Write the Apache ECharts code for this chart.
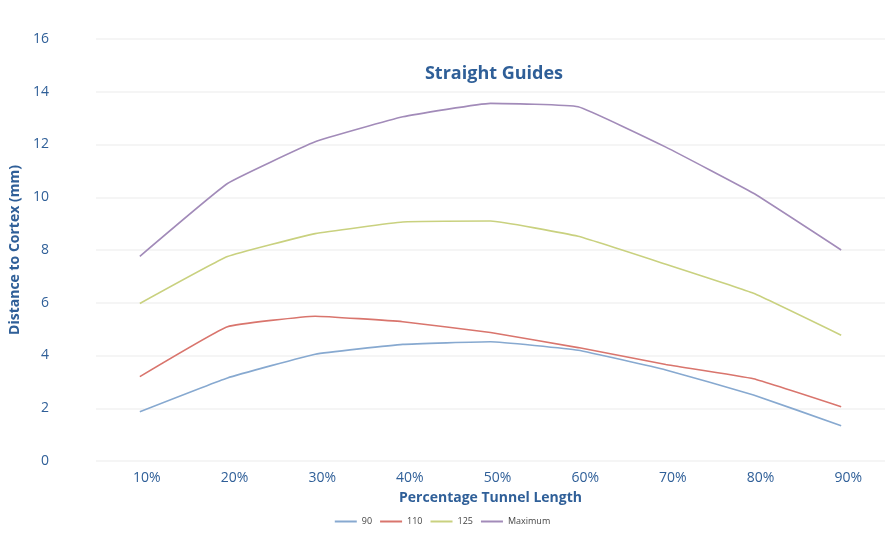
<!DOCTYPE html>
<html>
<head>
<meta charset="utf-8">
<script src="https://cdn.jsdelivr.net/npm/echarts@6/dist/echarts.min.js"></script>
<style>
  html, body { margin: 0; padding: 0; background: #fff; }
  #chart { width: 885px; height: 534px; }
</style>
</head>
<body>
<div id="chart"></div>
<script>
// categories along the tunnel
var tunnelPct = ['10%', '20%', '30%', '40%', '50%', '60%', '70%', '80%', '90%'];

// distance to cortex (mm) per guide
var guide90  = [1.87, 3.15, 4.05, 4.42, 4.52, 4.2, 3.45, 2.5, 1.34];
var guide110 = [3.2, 5.09, 5.49, 5.28, 4.87, 4.3, 3.66, 3.12, 2.06];
var guide125 = [5.97, 7.75, 8.62, 9.06, 9.1, 8.52, 7.46, 6.36, 4.77];
var guideMax = [7.76, 10.52, 12.1, 13.05, 13.56, 13.43, 11.9, 10.15, 8.0];

var textBlue = '#2f5f98';

var dom = document.getElementById('chart');
var myChart = echarts.init(dom, null, { renderer: 'canvas' });

function lineSeries(name, data, color) {
  return {
    name: name,
    type: 'line',
    data: data,
    symbol: 'none',
    smooth: 0.1,
    lineStyle: { width: 1.6, color: color },
    itemStyle: { color: color }
  };
}

var option = {
  animation: false,
  backgroundColor: '#fff',
  title: {
    text: 'Straight Guides',
    left: 489,
    textAlign: 'center',
    top: 60,
    textStyle: { color: textBlue, fontSize: 18, fontWeight: 'bold', fontFamily: 'Open Sans' }
  },
  legend: {
    bottom: 3,
    left: 'center',
    icon: 'rect',
    itemWidth: 22,
    itemHeight: 2,
    itemGap: 8,
    textStyle: { fontSize: 9, color: '#444', fontFamily: 'Open Sans' },
    data: ['90', '110', '125', 'Maximum']
  },
  grid: { left: 93, right: 0, top: 39, bottom: 73 },
  xAxis: {
    type: 'category',
    data: tunnelPct,
    boundaryGap: true,
    name: 'Percentage Tunnel Length',
    nameLocation: 'middle',
    nameGap: 30,
    nameTextStyle: { color: textBlue, fontSize: 14, fontWeight: 'bold', fontFamily: 'Open Sans' },
    axisLine: { show: false },
    axisTick: { show: false },
    axisLabel: { color: textBlue, fontSize: 14, margin: 10, fontFamily: 'Open Sans',
      padding: [0, 0, 0, 14] },
    splitLine: { show: false }
  },
  yAxis: {
    type: 'value',
    min: 0,
    max: 16,
    interval: 2,
    name: 'Distance to Cortex (mm)',
    nameLocation: 'middle',
    nameGap: 74,
    nameTextStyle: { color: textBlue, fontSize: 14, fontWeight: 'bold', fontFamily: 'Open Sans' },
    axisLine: { show: false },
    axisTick: { show: false },
    axisLabel: { color: textBlue, fontSize: 14, margin: 47, fontFamily: 'Open Sans' },
    splitLine: { lineStyle: { color: '#f5f5f5', width: 2 } }
  },
  series: [
    lineSeries('90', guide90, '#87a9d0'),
    lineSeries('110', guide110, '#d9756d'),
    lineSeries('125', guide125, '#c9d17f'),
    lineSeries('Maximum', guideMax, '#a28bb9')
  ]
};

myChart.setOption(option);
window.addEventListener('resize', myChart.resize);
</script>
</body>
</html>
